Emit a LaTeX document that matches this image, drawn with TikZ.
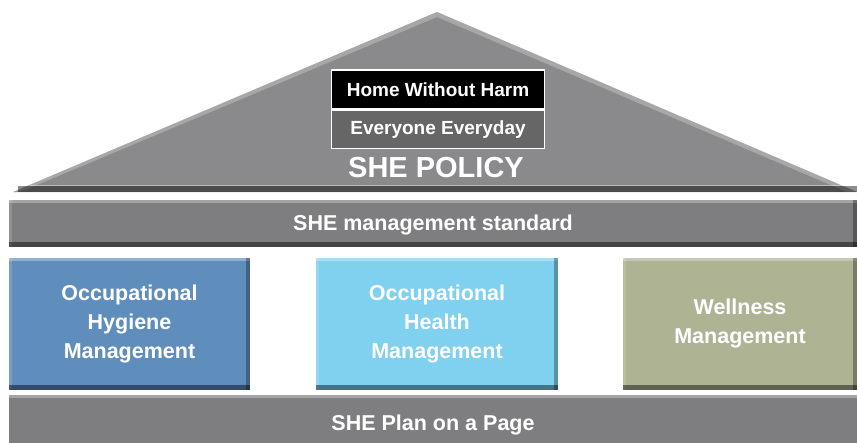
\documentclass[tikz,border=0pt]{standalone}
\usepackage{fontspec}
\setmainfont{Liberation Sans}
\usetikzlibrary{positioning}
\definecolor{roofgray}{HTML}{8A8A8C}
\definecolor{bargray}{HTML}{7E7E80}
\definecolor{hygblue}{HTML}{5F8EBD}
\definecolor{hltcyan}{HTML}{80D0F0}
\definecolor{wellgreen}{HTML}{ADB393}
\begin{document}
\begin{tikzpicture}[x=1pt,y=-1pt,
	bevel/.style={path picture={
		\fill[white,opacity=.3] (path picture bounding box.north west) rectangle ([yshift=-3pt]path picture bounding box.north east);
		\fill[white,opacity=.15] (path picture bounding box.north west) rectangle ([xshift=3pt]path picture bounding box.south west);
		\fill[black,opacity=.3] ([xshift=-4pt]path picture bounding box.north east) rectangle (path picture bounding box.south east);
		\fill[black,opacity=.45] (path picture bounding box.south west) rectangle ([yshift=5pt]path picture bounding box.south east);}},
	bar/.style={rectangle,bevel,fill=bargray,minimum width=848pt,inner sep=0pt,text=white,font=\bfseries\fontsize{21.5}{24}\selectfont},
	pillar/.style={rectangle,bevel,minimum height=132pt,inner sep=0pt,align=center,text=white,font=\bfseries\fontsize{21.5}{29}\selectfont},
	motto/.style={rectangle,draw=white,line width=1.6pt,minimum width=213pt,inner sep=0pt,text=white,font=\bfseries\fontsize{19}{22}\selectfont},
	]
	\useasboundingbox (0,0) rectangle (857,442);
	% roof
	\fill[roofgray] (13,192) -- (437,12) -- (857,192) -- cycle;
	\fill[white,opacity=.25] (13,192) -- (437,12) -- (857,192) -- (847,192) -- (437,17) -- (25,190) -- cycle;
	\fill[black,opacity=.45] (18,186) rectangle (857,192);
	\draw[white,opacity=.4,line width=.8pt] (30,185) -- (857,185);
	\node [motto,fill=black,minimum height=39pt] (home) at (438,89.5) {Home Without Harm};
	\node [motto,fill=black!60,minimum height=38pt,below=0pt of home] (every) {Everyone Everyday};
	\node [text=white,font=\bfseries\fontsize{29}{32}\selectfont] (policy) at (436,168) {SHE POLICY};
	% bars and pillars
	\node [bar,minimum height=47pt,text depth=1pt] (standard) at (433,223.5) {SHE management standard};
	\node [pillar,fill=hygblue,minimum width=241pt] (hygiene) at (129.5,323.5) {Occupational\\Hygiene\\Management};
	\node [pillar,fill=hltcyan,minimum width=242pt] (health) at (437,323.5) {Occupational\\Health\\Management};
	\node [pillar,fill=wellgreen,minimum width=234pt] (wellness) at (740,323.5) {Wellness\\Management};
	\node [bar,minimum height=60pt,path picture={\fill[white,opacity=.3] (path picture bounding box.north west) rectangle ([yshift=-3pt]path picture bounding box.north east);}] (plan) at (433,425) {SHE Plan on a Page};
\end{tikzpicture}
\end{document}
